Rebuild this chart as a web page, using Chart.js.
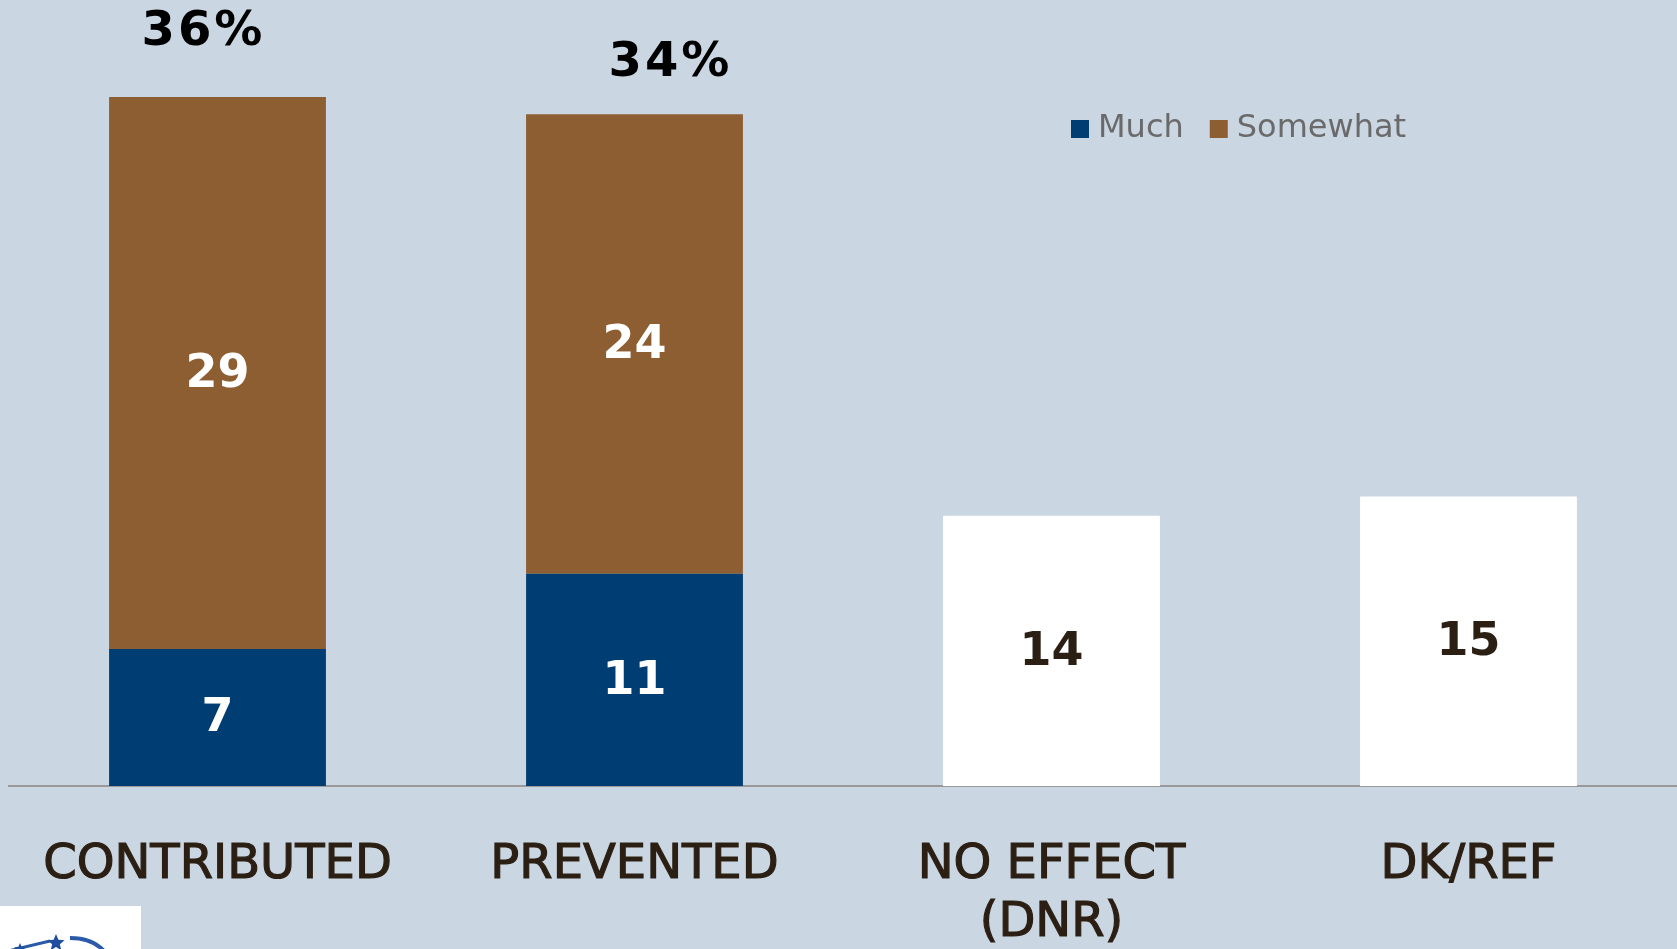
<!DOCTYPE html>
<html>
<head>
<meta charset="utf-8">
<script src="https://cdn.jsdelivr.net/npm/chart.js@4"></script>
<style>
  html, body { margin: 0; padding: 0; background: #cad7e3; overflow: hidden; }
  #wrap { position: relative; width: 1677px; height: 949px; }
</style>
</head>
<body>
<div id="wrap"><canvas id="myChart" width="1677" height="949"></canvas></div>
<script>
//chart data
const categories = ['CONTRIBUTED', 'PREVENTED', ['NO EFFECT', '(DNR)'], 'DK/REF'];
const muchValues = [7.1, 11, null, null];
const somewhatValues = [28.6, 23.8, null, null];
const otherValues = [null, null, 14, 15];
const totalLabels = ['36%', '34%', null, null];

const blue = '#003d72';
const brown = '#8c5e31';
const textDark = '#2b1f14';

//nudges for the total labels above the bars (px)
const totalShift = [[-14, -64], [36, -51]];

//values drawn inside the bars
const valueLabels = {
    id: 'valueLabels',
    afterDatasetsDraw(chart) {
        const ctx = chart.ctx;
        ctx.save();
        ctx.font = 'bold 46px "DejaVu Sans"';
        ctx.textAlign = 'center';
        ctx.textBaseline = 'middle';
        chart.data.datasets.forEach((ds, i) => {
            const meta = chart.getDatasetMeta(i);
            meta.data.forEach((bar, j) => {
                if (ds.data[j] == null) return;
                const p = bar.getCenterPoint();
                ctx.fillStyle = i === 2 ? textDark : '#ffffff';
                ctx.fillText(Math.round(ds.data[j]), p.x, p.y + 2);
            });
        });
        //totals above the stacked bars
        const top = chart.getDatasetMeta(1);
        ctx.font = 'bold 48px "DejaVu Sans"';
        ctx.letterSpacing = '3px';
        ctx.fillStyle = '#000000';
        totalLabels.forEach((t, j) => {
            if (!t) return;
            const bar = top.data[j];
            const s = totalShift[j] || [0, -60];
            ctx.fillText(t, bar.x + s[0], bar.y + s[1]);
        });
        ctx.restore();
    }
};

//legend drawn inside the plot, only Much / Somewhat
const innerLegend = {
    id: 'innerLegend',
    afterDraw(chart) {
        const ctx = chart.ctx;
        ctx.save();
        ctx.font = '32px "DejaVu Sans"';
        ctx.textBaseline = 'middle';
        ctx.textAlign = 'left';
        let x = 1071;
        const y = 129;
        [0, 1].forEach(i => {
            const ds = chart.data.datasets[i];
            ctx.fillStyle = ds.backgroundColor;
            ctx.fillRect(x, y - 9, 18, 18);
            x += 27;
            ctx.fillStyle = '#6a6a6a';
            ctx.fillText(ds.label, x, y);
            x += ctx.measureText(ds.label).width + 26;
        });
        ctx.restore();
    }
};

//white logo patch in the lower left corner
const logoPatch = {
    id: 'logoPatch',
    afterDraw(chart) {
        const ctx = chart.ctx;
        ctx.save();
        ctx.fillStyle = '#ffffff';
        ctx.fillRect(0, 906, 141, 43);
        ctx.strokeStyle = '#2a5aa8';
        ctx.lineWidth = 3;
        ctx.beginPath();
        ctx.moveTo(8, 951);
        ctx.lineTo(50, 941);
        ctx.stroke();
        ctx.lineWidth = 4;
        ctx.beginPath();
        ctx.moveTo(70, 938);
        ctx.quadraticCurveTo(92, 938, 104, 951);
        ctx.stroke();
        ctx.fillStyle = '#1f4f9e';
        const star = (cx, cy, r) => {
            ctx.beginPath();
            for (let k = 0; k < 10; k++) {
                const a = -Math.PI / 2 + k * Math.PI / 5;
                const rr = k % 2 ? r * 0.45 : r;
                ctx.lineTo(cx + rr * Math.cos(a), cy + rr * Math.sin(a));
            }
            ctx.closePath();
            ctx.fill();
        };
        star(56, 943, 9);
        star(20, 949, 6);
        ctx.restore();
    }
};

const myChart = document.getElementById('myChart').getContext('2d');

const dataChart = new Chart(myChart, {
    type: 'bar',
    data: {
        labels: categories,
        datasets: [
            { label: 'Much', data: muchValues, backgroundColor: blue },
            { label: 'Somewhat', data: somewhatValues, backgroundColor: brown },
            { label: 'Other', data: otherValues, backgroundColor: '#ffffff' }
        ]
    },
    options: {
        responsive: false,
        animation: false,
        datasets: {
            bar: { categoryPercentage: 1, barPercentage: 0.52, borderWidth: 0 }
        },
        layout: {
            padding: { left: 9, right: 0, top: 14, bottom: 0 }
        },
        plugins: {
            legend: { display: false },
            tooltip: { enabled: false }
        },
        scales: {
            x: {
                stacked: true,
                grid: { display: false, drawTicks: false },
                border: { display: true, color: '#9a9a9a', width: 2 },
                ticks: {
                    color: textDark,
                    textStrokeColor: textDark,
                    textStrokeWidth: 1.2,
                    padding: 50,
                    maxRotation: 0,
                    autoSkip: false,
                    font: { family: '"DejaVu Sans"', size: 48, lineHeight: 1.22 }
                },
                afterFit(axis) {
                    axis.height = 163;
                    axis.paddingLeft = 0;
                    axis.paddingRight = 0;
                }
            },
            y: {
                stacked: true,
                display: false,
                min: 0,
                max: 40
            }
        }
    },
    plugins: [valueLabels, innerLegend, logoPatch]
});
</script>
</body>
</html>
